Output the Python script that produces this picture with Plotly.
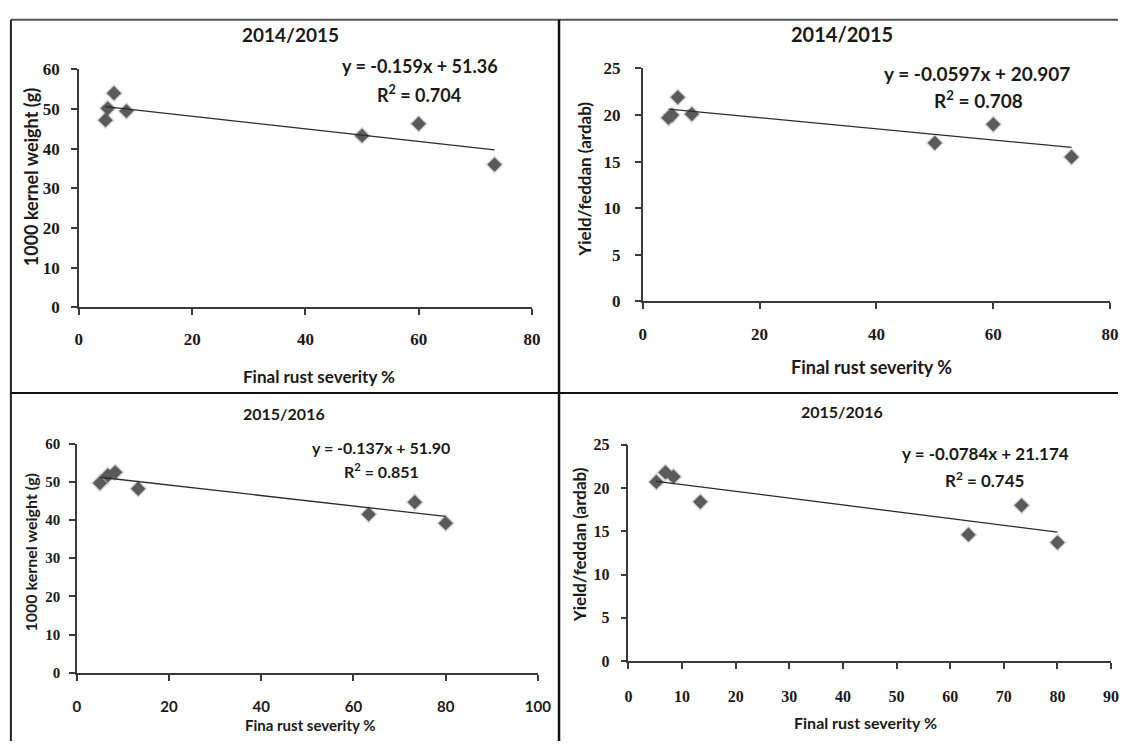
import plotly.graph_objects as go

W, H = 1131, 751

# ---------------- data ----------------
sev_1415_kw = [4.7, 5.1, 6.2, 8.4, 50.0, 60.0, 73.4]
kw_1415 = [47.2, 50.2, 54.0, 49.5, 43.3, 46.3, 36.0]

sev_1415_yl = [4.4, 5.0, 6.0, 8.4, 50.0, 60.0, 73.4]
yld_1415 = [19.7, 20.0, 21.9, 20.1, 17.0, 19.0, 15.5]

sev_1516_kw = [5.0, 6.7, 8.3, 13.3, 63.3, 73.3, 80.0]
kw_1516 = [49.7, 51.7, 52.5, 48.2, 41.5, 44.7, 39.2]

sev_1516_yl = [5.2, 6.9, 8.4, 13.4, 63.4, 73.3, 80.0]
yld_1516 = [20.7, 21.8, 21.3, 18.4, 14.6, 18.0, 13.7]

slopes = [-0.159, -0.0597, -0.137, -0.0784]
intercepts = [51.36, 20.907, 51.90, 21.174]
eq_texts = ["y = -0.159x + 51.36", "y = -0.0597x + 20.907",
            "y = -0.137x + 51.90", "y = -0.0784x + 21.174"]
r2_texts = ["0.704", "0.708", "0.851", "0.745"]
titles = ["2014/2015", "2014/2015", "2015/2016", "2015/2016"]
x_titles = ["Final rust severity %", "Final rust severity %",
            "Fina rust severity %", "Final rust severity %"]
y_titles = ["1000 kernel weight (g)", "Yield/feddan (ardab)",
            "1000 kernel weight (g)", "Yield/feddan (ardab)"]

xs = [sev_1415_kw, sev_1415_yl, sev_1516_kw, sev_1516_yl]
ys = [kw_1415, yld_1415, kw_1516, yld_1516]

# ---------------- layout (pixel geometry) ----------------
def px(x):
    return x / W

def py(y):
    return 1 - y / H

panels = [
    dict(x0=76, x1=536, y0=306, y1=62, xr=80, xd=20, yr=60, yd=10,
         xfam="Liberation Serif", xfs=17, yfs=17, xsoff=10, ysoff=8,
         title=(291, 26, 19), xt=(320, 377, 17), yt=(27, 173, 18),
         eq=(422, 58, 18), r2=(421, 87, 18)),
    dict(x0=648.5, x1=1123, y0=300, y1=61, xr=80, xd=20, yr=25, yd=5,
         xfam="Liberation Serif", xfs=17, yfs=17, xsoff=10, ysoff=11,
         title=(851, 26, 20), xt=(881, 367, 18), yt=(589, 175, 17),
         eq=(988, 66, 19), r2=(989, 93, 19)),
    dict(x0=74, x1=542, y0=681, y1=446, xr=100, xd=20, yr=60, yd=10,
         xfam="Lato", xfs=15, yfs=15, xsoff=13, ysoff=6,
         title=(284, 415, 16), xt=(311, 735, 15), yt=(27, 557, 16),
         eq=(383, 450, 16), r2=(383, 473, 16)),
    dict(x0=634, x1=1124, y0=669, y1=447, xr=90, xd=10, yr=25, yd=5,
         xfam="Liberation Serif", xfs=16, yfs=16, xsoff=14, ysoff=8,
         title=(851, 413, 16), xt=(875, 732, 16), yt=(584, 550, 17),
         eq=(996, 456, 17), r2=(995, 483, 17)),
]

fig = go.Figure()
SANS = "Lato"
TXT = "#1a1a1a"
AXC = "#3a3a3a"
annotations = []

for i, p in enumerate(panels):
    n = "" if i == 0 else str(i + 1)
    xa, ya = "x" + n, "y" + n
    x = xs[i]
    y = ys[i]
    # soft shadow halo behind the markers
    fig.add_trace(go.Scatter(x=x, y=y, xaxis=xa, yaxis=ya, mode="markers",
                             marker=dict(symbol="diamond", size=14,
                                         color="rgba(0,0,0,0.16)"),
                             hoverinfo="skip", showlegend=False))
    fig.add_trace(go.Scatter(x=x, y=y, xaxis=xa, yaxis=ya, mode="markers",
                             marker=dict(symbol="diamond", size=11,
                                         color="#5a5a5a",
                                         line=dict(width=0)),
                             showlegend=False))
    lx = [min(x), max(x)]
    ly = [slopes[i] * v + intercepts[i] for v in lx]
    fig.add_trace(go.Scatter(x=lx, y=ly, xaxis=xa, yaxis=ya, mode="lines",
                             line=dict(color="#2b2b2b", width=1.3),
                             showlegend=False))

    common = dict(showline=True, linecolor=AXC, linewidth=1.5,
                  ticks="outside", ticklen=6, tickwidth=1.5, tickcolor=AXC,
                  showgrid=False, zeroline=False, fixedrange=True)
    fig.layout["xaxis" + n] = dict(
        domain=[px(p["x0"]), px(p["x1"])], range=[0, p["xr"]], dtick=p["xd"],
        anchor=ya, ticklabelstandoff=p["xsoff"],
        tickfont=dict(family=p["xfam"], size=p["xfs"], color=TXT, weight="bold"),
        **common)
    fig.layout["yaxis" + n] = dict(
        domain=[py(p["y0"]), py(p["y1"])], range=[0, p["yr"]], dtick=p["yd"],
        anchor=xa, ticklabelstandoff=p["ysoff"],
        tickfont=dict(family="Liberation Serif", size=p["yfs"], color=TXT,
                      weight="bold"),
        **common)

    def ann(text, pos, angle=0):
        annotations.append(dict(
            text=text, x=px(pos[0]), y=py(pos[1]), xref="paper", yref="paper",
            xanchor="center", yanchor="middle", showarrow=False,
            textangle=angle,
            font=dict(family=SANS, size=pos[2], color=TXT, weight="bold")))

    ann(titles[i], p["title"])
    ann(x_titles[i], p["xt"])
    ann(y_titles[i], p["yt"], -90)
    ann(eq_texts[i], p["eq"])
    ann("R<sup>2</sup> = " + r2_texts[i], p["r2"])

# table frame lines
shapes = [
    dict(type="line", xref="paper", yref="paper", x0=px(7), x1=1, y0=py(11), y1=py(11),
         line=dict(color="#555555", width=2)),
    dict(type="line", xref="paper", yref="paper", x0=px(7), x1=px(7), y0=py(11), y1=0,
         line=dict(color="#222222", width=2)),
    dict(type="line", xref="paper", yref="paper", x0=px(563.5), x1=px(563.5), y0=py(11), y1=0,
         line=dict(color="#111111", width=2.5)),
    dict(type="line", xref="paper", yref="paper", x0=px(7), x1=1, y0=py(394), y1=py(394),
         line=dict(color="#111111", width=2)),
]

fig.update_layout(width=W, height=H, margin=dict(l=0, r=0, t=0, b=0),
                  paper_bgcolor="white", plot_bgcolor="white",
                  annotations=annotations, shapes=shapes, showlegend=False)

fig.write_html("out.html")
